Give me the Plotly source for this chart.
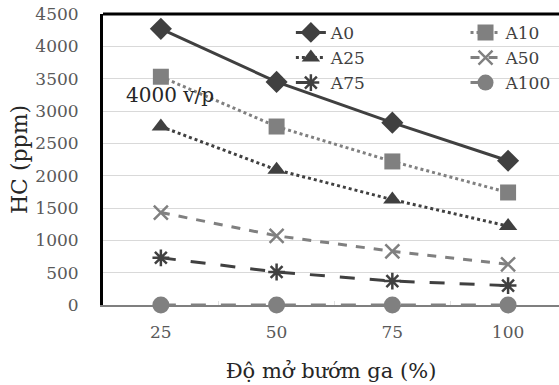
import plotly.graph_objects as go

# Throttle opening (%) and HC emissions (ppm) for each fuel blend at 4000 rpm
categories = ["25", "50", "75", "100"]
a0 = [4270, 3450, 2820, 2230]
a10 = [3530, 2760, 2220, 1740]
a25 = [2760, 2090, 1630, 1220]
a50 = [1430, 1070, 830, 630]
a75 = [730, 510, 370, 300]
a100 = [0, 0, 0, 0]
y_ticks = [0, 500, 1000, 1500, 2000, 2500, 3000, 3500, 4000, 4500]

FONT = "DejaVu Serif, Liberation Serif, serif"
DARK = "#404040"
GREY = "#808080"

series = [
    ("A0", a0, DARK, "solid", "diamond", 17, "legend"),
    ("A10", a10, GREY, "dot", "square", 16, "legend2"),
    ("A25", a25, DARK, "dot", "triangle-up", 16, "legend"),
    ("A50", a50, GREY, "dash", "x-thin-open", 14, "legend2"),
    ("A75", a75, DARK, "longdash", "asterisk-open", 14, "legend"),
    ("A100", a100, GREY, "longdash", "circle", 17, "legend2"),
]

fig = go.Figure()
for name, vals, color, dash, symbol, size, leg in series:
    open_sym = symbol.endswith("open")
    fig.add_trace(go.Scatter(
        x=categories, y=vals, name=name, mode="lines+markers",
        line=dict(color=color, dash=dash, width=3),
        marker=dict(symbol=symbol, size=size, color=color,
                    line=dict(color=color, width=2.5 if open_sym else 0)),
        cliponaxis=False, legend=leg,
    ))

fig.add_annotation(
    text="4000 v/p", xref="paper", yref="y", x=0.045, y=3250,
    xanchor="left", yanchor="middle", showarrow=False,
    font=dict(family=FONT, size=20, color="#262626"),
)

# heavy frame line along the top of the plot area
fig.add_shape(type="line", xref="paper", yref="paper", x0=0, x1=1, y0=1, y1=1,
              line=dict(color="black", width=3))

legend_style = dict(
    font=dict(family=FONT, size=17, color="#404040"),
    bgcolor="rgba(0,0,0,0)", borderwidth=0,
    xanchor="left", yanchor="top", tracegroupgap=0, itemwidth=30,
)

fig.update_layout(
    width=559, height=385,
    margin=dict(l=103, r=0, t=14, b=80),
    paper_bgcolor="white", plot_bgcolor="white",
    font=dict(family=FONT, color="#595959"),
    showlegend=True,
    legend=dict(x=0.412, y=0.997, **legend_style),
    legend2=dict(x=0.795, y=0.997, **legend_style),
    xaxis=dict(
        type="category", range=[-0.5, 3.44],
        showline=True, linecolor="#7f7f7f", linewidth=2, layer="below traces",
        ticks="inside", tickson="boundaries", ticklen=4, tickcolor="#e0e0e0",
        showgrid=False, ticklabelstandoff=11,
        tickfont=dict(family=FONT, size=17, color="#595959"),
        title=dict(text="Độ mở bướm ga (%)", font=dict(family=FONT, size=21, color="#262626"), standoff=22),
    ),
    yaxis=dict(
        range=[0, 4500], tickvals=y_ticks,
        showline=True, linecolor="black", linewidth=3,
        showgrid=True, gridcolor="#d9d9d9", gridwidth=1,
        zeroline=False, ticks="", ticklabelstandoff=18,
        tickfont=dict(family=FONT, size=17, color="#595959"),
        title=dict(text="HC (ppm)", font=dict(family=FONT, size=22, color="#262626"), standoff=2),
    ),
)

fig.write_html("out.html")
